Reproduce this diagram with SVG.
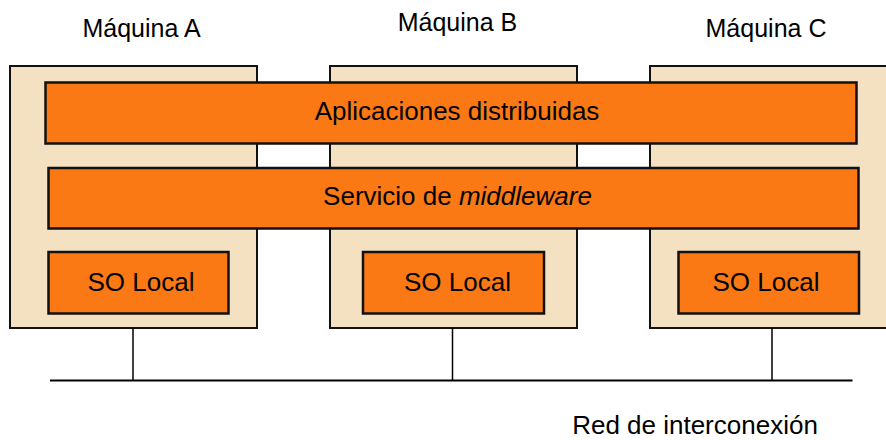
<svg xmlns="http://www.w3.org/2000/svg" width="886" height="440" viewBox="0 0 886 440">
<style>
.mach{fill:#F3E1C2;stroke:#111;stroke-width:2}
.bar{fill:#FB7915;stroke:#111;stroke-width:2.5}
.t{font-family:"Liberation Sans",Arial,sans-serif;font-size:26px;fill:#000;text-anchor:middle}
.lbl{font-family:"Liberation Sans",Arial,sans-serif;font-size:25px;fill:#000;text-anchor:middle}
.ln{stroke:#000;fill:none}
</style>
<rect width="886" height="440" fill="#fff"/>
<g id="maquina-a">
<rect class="mach" x="10" y="66" width="247" height="262"/>
<text class="lbl" x="141.5" y="37">Máquina A</text>
</g>
<g id="maquina-b">
<rect class="mach" x="330" y="66" width="247" height="262"/>
<text class="lbl" x="457.5" y="31">Máquina B</text>
</g>
<g id="maquina-c">
<rect class="mach" x="650" y="66" width="247" height="262"/>
<text class="lbl" x="766" y="37">Máquina C</text>
</g>
<g id="aplicaciones">
<rect class="bar" x="45.5" y="82.5" width="811" height="61"/>
<text class="t" x="457" y="120">Aplicaciones distribuidas</text>
</g>
<g id="middleware">
<rect class="bar" x="48.5" y="168" width="810" height="60.5"/>
<text class="t" x="457.5" y="205">Servicio de <tspan font-style="italic">middleware</tspan></text>
</g>
<g id="so-a">
<rect class="bar" x="48.5" y="252" width="180" height="61.5"/>
<text class="t" x="141" y="291">SO Local</text>
</g>
<g id="so-b">
<rect class="bar" x="363" y="252" width="181" height="61.5"/>
<text class="t" x="457.5" y="291">SO Local</text>
</g>
<g id="so-c">
<rect class="bar" x="678.5" y="252" width="180.5" height="61.5"/>
<text class="t" x="766" y="291">SO Local</text>
</g>
<g id="conectores">
<line class="ln" x1="133" y1="328" x2="133" y2="380" stroke-width="1.5"/>
<line class="ln" x1="452.5" y1="328" x2="452.5" y2="380" stroke-width="1.5"/>
<line class="ln" x1="772" y1="328" x2="772" y2="380" stroke-width="1.5"/>
<line class="ln" x1="50" y1="380.5" x2="852.5" y2="380.5" stroke-width="2"/>
</g>
<g id="red">
<text class="t" x="695" y="434">Red de interconexión</text>
</g>
</svg>
